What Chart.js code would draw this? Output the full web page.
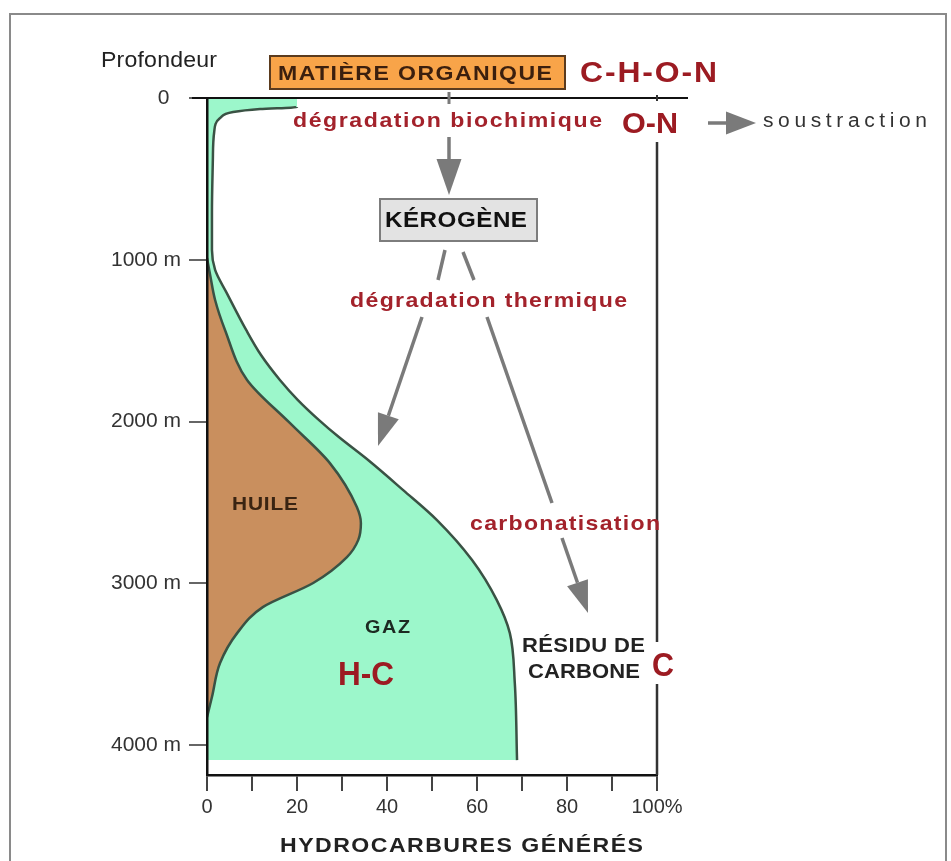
<!DOCTYPE html>
<html lang="fr">
<head>
<meta charset="UTF-8">
<title>Hydrocarbures générés</title>
<script src="https://cdn.jsdelivr.net/npm/chart.js"></script>
<style>
  html, body { margin: 0; padding: 0; background: #fff; }
  canvas { display: block; }
</style>
</head>
<body>
<canvas id="chart" width="951" height="861"></canvas>
<script>
// profondeur (m) et % d'hydrocarbures générés
const gasDepth = [0, 56, 68, 87, 124, 210, 383, 711, 940, 1063, 1206, 1434, 1589, 1743, 1867, 1991, 2096, 2238, 2424, 2609, 2856, 3104, 3308, 3617, 4093];
const gasPct   = [20, 20, 11.8, 5.8, 2.9, 1.6, 1.3, 1.1, 1.1, 1.8, 4.4, 8.7, 12.0, 16.2, 20.2, 24.9, 29.3, 35.8, 43.6, 51.1, 58.9, 64.4, 67.3, 68.4, 68.9];

const oilDepth = [989, 1094, 1249, 1434, 1743, 2009, 2257, 2529, 2628, 2733, 2838, 2998, 3147, 3308, 3493, 3703, 3827];
const oilPct   = [0, 0.7, 1.8, 4.0, 8.9, 18.4, 27.3, 33.3, 34.2, 33.6, 31.1, 23.6, 12.4, 6.7, 2.9, 1.1, 0];

const depthTicks  = [0, 1000, 2000, 3000, 4000];
const depthLabels = ['0\u00a0\u00a0', '1000 m', '2000 m', '3000 m', '4000 m'];
const pctTicks  = [0, 10, 20, 30, 40, 50, 60, 70, 80, 90, 100];
const pctLabels = ['0', '', '20', '', '40', '', '60', '', '80', '', '100%'];

const FONT = 'Liberation Sans, Arial, sans-serif';
const RED = '#9c1b22';
const ARROW = '#7a7a7a';

Chart.defaults.font.family = FONT;

// texte un peu étiré pour occuper la largeur w (comme l'image d'origine)
function txt(c, s, x, y, size, weight, color, w) {
  c.font = weight + ' ' + size + 'px ' + FONT;
  c.letterSpacing = '0px';
  const w0 = c.measureText(s).width;
  let sx = weight === 'bold' ? 1.1 : 1.05;
  if (w0 * sx > w) sx = Math.max(0.9, w / w0);
  const sp = s.length > 1 ? Math.max(0, (w / sx - w0) / (s.length - 1)) : 0;
  c.save();
  c.translate(x, y);
  c.scale(sx, 1);
  c.letterSpacing = sp + 'px';
  c.fillStyle = color;
  c.textAlign = 'left';
  c.textBaseline = 'alphabetic';
  c.fillText(s, 0, 0);
  c.restore();
}

function seg(c, x1, y1, x2, y2, color, w) {
  c.strokeStyle = color;
  c.lineWidth = w;
  c.beginPath();
  c.moveTo(x1, y1);
  c.lineTo(x2, y2);
  c.stroke();
}

function arrow(c, x1, y1, x2, y2, hl, hw) {
  const a = Math.atan2(y2 - y1, x2 - x1);
  const bx = x2 - hl * Math.cos(a), by = y2 - hl * Math.sin(a);
  seg(c, x1, y1, bx, by, ARROW, 3.5);
  c.fillStyle = ARROW;
  c.beginPath();
  c.moveTo(x2, y2);
  c.lineTo(bx + hw / 2 * Math.sin(a), by - hw / 2 * Math.cos(a));
  c.lineTo(bx - hw / 2 * Math.sin(a), by + hw / 2 * Math.cos(a));
  c.closePath();
  c.fill();
}

function box(c, x, y, w, h, fill, stroke) {
  c.fillStyle = fill;
  c.fillRect(x, y, w, h);
  c.strokeStyle = stroke;
  c.lineWidth = 2;
  c.strokeRect(x, y, w, h);
}

const decor = {
  id: 'decor',
  beforeDraw(chart) {
    const c = chart.ctx;
    c.save();
    c.strokeStyle = '#8a8a8a';
    c.lineWidth = 2;
    c.strokeRect(10, 14, 936, 900);
    c.restore();
  },
  afterDraw(chart) {
    const c = chart.ctx;
    const xs = chart.scales.x, ys = chart.scales.y;
    const top = ys.getPixelForValue(0);
    const right = xs.getPixelForValue(100);
    const bottom = chart.chartArea.bottom;
    c.save();

    // cadre haut et droit
    seg(c, 192, top, 688, top, '#111', 2);
    seg(c, right, top - 3, right, top + 3, '#333', 2);
    seg(c, right, 142, right, 642, '#333', 2.5);
    seg(c, right, 684, right, bottom, '#333', 2.5);

    // flèches
    seg(c, 449, 92, 449, 104, ARROW, 3);
    arrow(c, 449, 137, 449, 195, 36, 25);
    seg(c, 445, 250, 438, 280, ARROW, 3.5);
    seg(c, 463, 252, 474, 280, ARROW, 3.5);
    arrow(c, 422, 317, 378, 446, 32, 22);
    seg(c, 487, 317, 552, 503, ARROW, 3.5);
    arrow(c, 562, 538, 588, 613, 32, 22);
    arrow(c, 708, 123, 756, 123, 30, 23);

    // boîtes
    box(c, 270, 56, 295, 33, '#f8a449', '#5b3b1e');
    box(c, 380, 199, 157, 42, '#e3e3e3', '#7d7d7d');

    // textes
    txt(c, 'Profondeur', 101, 67, 22, 'normal', '#222', 116);
    txt(c, 'MATIÈRE ORGANIQUE', 278, 80, 21, 'bold', '#3b1f0e', 274);
    txt(c, 'C-H-O-N', 580, 82, 29, 'bold', RED, 137);
    txt(c, 'dégradation biochimique', 293, 127, 21, 'bold', '#a3222b', 309);
    txt(c, 'O-N', 622, 133, 29, 'bold', RED, 56);
    txt(c, 'soustraction', 763, 127, 20, 'normal', '#333', 164);
    txt(c, 'KÉROGÈNE', 385, 227, 22, 'bold', '#111', 142);
    txt(c, 'dégradation thermique', 350, 307, 21, 'bold', '#a3222b', 277);
    txt(c, 'carbonatisation', 470, 530, 21, 'bold', '#a3222b', 190);
    txt(c, 'HUILE', 232, 510, 19, 'bold', '#3a2412', 66);
    txt(c, 'GAZ', 365, 633, 18, 'bold', '#1d2a22', 45);
    txt(c, 'H-C', 338, 685, 33, 'bold', RED, 56);
    txt(c, 'RÉSIDU DE', 522, 652, 20, 'bold', '#222', 123);
    txt(c, 'CARBONE', 528, 678, 20, 'bold', '#222', 112);
    txt(c, 'C', 652, 676, 33, 'bold', RED, 22);
    txt(c, 'HYDROCARBURES GÉNÉRÉS', 280, 852, 21, 'bold', '#222', 363);
    c.restore();
  }
};

new Chart(document.getElementById('chart'), {
  type: 'line',
  data: {
    datasets: [
      {
        label: 'Huile',
        data: oilDepth.map((d, i) => ({ x: oilPct[i], y: d })),
        borderColor: '#3a5244',
        borderWidth: 2.5,
        backgroundColor: '#c98f5e',
        fill: 'origin',
        pointRadius: 0,
        cubicInterpolationMode: 'monotone'
      },
      {
        label: 'Gaz',
        data: gasDepth.map((d, i) => ({ x: gasPct[i], y: d })),
        borderColor: '#3a5244',
        borderWidth: 2.5,
        backgroundColor: '#9cf7cb',
        fill: 'origin',
        pointRadius: 0,
        cubicInterpolationMode: 'monotone',
        segment: {
          borderColor: ctx => ctx.p0DataIndex === 0 ? 'rgba(0,0,0,0)' : undefined
        }
      }
    ]
  },
  options: {
    indexAxis: 'y',
    responsive: false,
    animation: false,
    layout: { padding: { top: 98, right: 294, left: 0, bottom: 0 } },
    plugins: { legend: { display: false }, tooltip: { enabled: false } },
    scales: {
      x: {
        type: 'linear',
        position: 'bottom',
        min: 0,
        max: 100,
        afterFit: s => { s.height = 86; },
        afterBuildTicks: s => { s.ticks = pctTicks.map(v => ({ value: v })); },
        grid: { drawOnChartArea: false, tickLength: 16, color: '#444', lineWidth: 2 },
        border: { color: '#111', width: 2.5, z: 1 },
        ticks: {
          callback: (v, i) => pctLabels[i],
          font: { size: 20 },
          color: '#333',
          padding: 4,
          maxRotation: 0,
          autoSkip: false
        }
      },
      y: {
        type: 'linear',
        reverse: true,
        min: 0,
        max: 4185,
        afterFit: s => { s.width = 207; },
        afterBuildTicks: s => { s.ticks = depthTicks.map(v => ({ value: v })); },
        grid: { drawOnChartArea: false, tickLength: 18, color: '#666', lineWidth: 2 },
        border: { color: '#111', width: 2.5, z: 1 },
        ticks: {
          callback: (v, i) => depthLabels[i],
          font: { size: 21 },
          color: '#333',
          padding: 8,
          autoSkip: false
        }
      }
    }
  },
  plugins: [decor]
});
</script>
</body>
</html>
